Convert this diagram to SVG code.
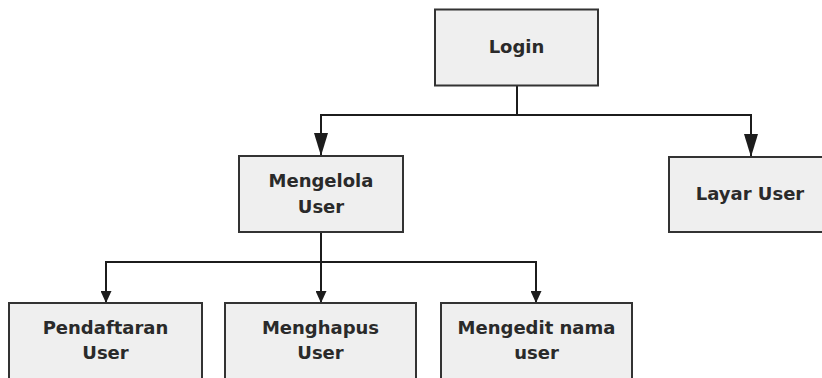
<svg xmlns="http://www.w3.org/2000/svg" width="822" height="378" viewBox="0 0 822 378">
  <defs>
    <style>
      .box { fill: #efefef; stroke: #333; stroke-width: 2; }
      .lbl { font-family: "DejaVu Sans", Verdana, sans-serif; font-weight: bold; font-size: 18px; fill: #2a2a2a; text-anchor: middle; }
      .wire { fill: none; stroke: #1c1c1c; stroke-width: 2; }
      .big { marker-end: url(#arrowLg); }
      .small { marker-end: url(#arrowSm); }
    </style>
    <!-- arrowheads point along +x; orient="auto" turns them down the line -->
    <marker id="arrowLg" markerUnits="userSpaceOnUse" markerWidth="23" markerHeight="14" refX="23" refY="7" orient="auto" viewBox="0 0 23 14">
      <path d="M0,0 L23,7 L0,14 Z" fill="#1c1c1c"/>
    </marker>
    <marker id="arrowSm" markerUnits="userSpaceOnUse" markerWidth="12" markerHeight="11" refX="12" refY="5.5" orient="auto" viewBox="0 0 12 11">
      <path d="M0,0 L12,5.5 L0,11 Z" fill="#1c1c1c"/>
    </marker>
  </defs>
  <rect width="822" height="378" fill="#ffffff"/>

  <!-- connectors -->
  <g id="connectors">
    <path class="wire" d="M517,86 V115"/>
    <path class="wire" d="M320,115 H752"/>
    <path class="wire big" d="M321,114 V156"/>
    <path class="wire big" d="M751,114 V157"/>
    <path class="wire small" d="M321,232 V303"/>
    <path class="wire" d="M105,262 H537"/>
    <path class="wire small" d="M106,261 V303"/>
    <path class="wire small" d="M536,261 V303"/>
  </g>

  <g id="login">
    <rect class="box" x="435" y="9.5" width="163" height="76"/>
    <text class="lbl" x="516.5" y="53">Login</text>
  </g>

  <g id="mengelola-user">
    <rect class="box" x="239" y="156" width="164" height="76"/>
    <text class="lbl" x="321" y="187">Mengelola</text>
    <text class="lbl" x="321" y="213">User</text>
  </g>

  <g id="layar-user">
    <rect class="box" x="669" y="157" width="162" height="75"/>
    <text class="lbl" x="750" y="200">Layar User</text>
  </g>

  <g id="pendaftaran-user">
    <rect class="box" x="9" y="303" width="193" height="85"/>
    <text class="lbl" x="105.5" y="334">Pendaftaran</text>
    <text class="lbl" x="105.5" y="359">User</text>
  </g>

  <g id="menghapus-user">
    <rect class="box" x="225" y="303" width="191" height="85"/>
    <text class="lbl" x="320.5" y="334">Menghapus</text>
    <text class="lbl" x="320.5" y="359">User</text>
  </g>

  <g id="mengedit-nama-user">
    <rect class="box" x="441" y="303" width="191" height="85"/>
    <text class="lbl" x="536.5" y="334">Mengedit nama</text>
    <text class="lbl" x="536.5" y="359">user</text>
  </g>
</svg>
